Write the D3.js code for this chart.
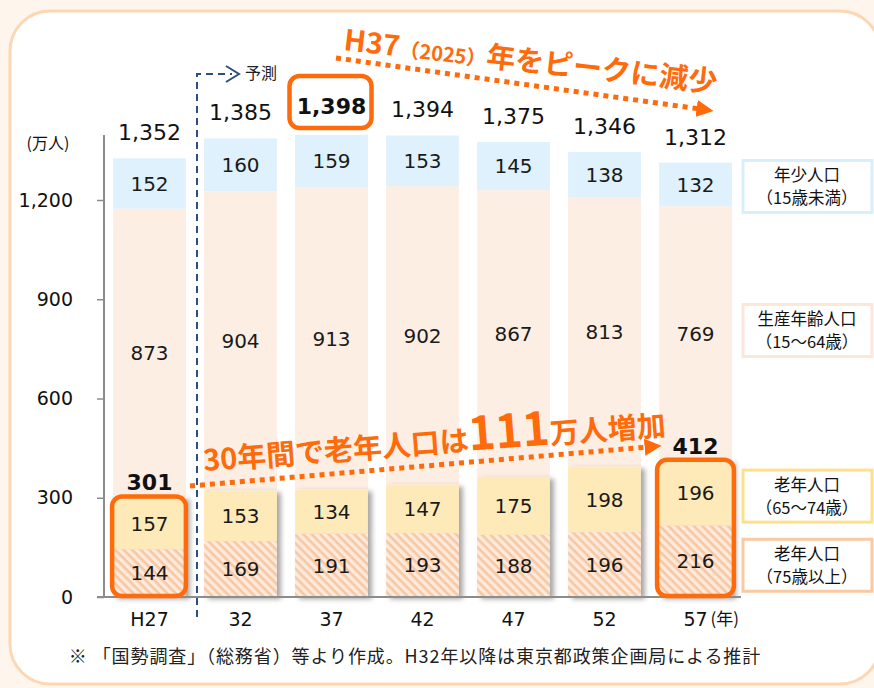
<meta charset="utf-8">
<script src="https://d3js.org/d3.v7.min.js"></script>
<style>
  body { margin: 0; background: #fef5ec; }
  text { font-family: "Noto Sans CJK JP", "Noto Sans", sans-serif; }
  .num { font-family: "DejaVu Sans", sans-serif; }
</style>
<div id="chart"></div>
<script>

// data
var years = ["H27", "32", "37", "42", "47", "52", "57"];
var young = [152, 160, 159, 153, 145, 138, 132];
var working = [873, 904, 913, 902, 867, 813, 769];
var old6574 = [157, 153, 134, 147, 175, 198, 196];
var old75 = [144, 169, 191, 193, 188, 196, 216];
var totals = [1352, 1385, 1398, 1394, 1375, 1346, 1312];
var yTicks = [0, 300, 600, 900, 1200];
var legendNames = ["年少人口", "生産年齢人口", "老年人口", "老年人口"];
var legendSubs = ["（15歳未満）", "（15～64歳）", "（65～74歳）", "（75歳以上）"];

var W = 874, H = 688;
var orange = "#ff6a0a";

var svg = d3.select("#chart")
  .append("svg")
    .attr("width", W)
    .attr("height", H);

var defs = svg.append("defs");

// hatch for 75+
var pat = defs.append("pattern")
    .attr("id", "hatch")
    .attr("patternUnits", "userSpaceOnUse")
    .attr("width", 6).attr("height", 6)
    .attr("patternTransform", "rotate(45)");
pat.append("rect").attr("width", 6).attr("height", 6).attr("fill", "#fdeadc");
pat.append("rect").attr("width", 6).attr("height", 2.6).attr("fill", "#f7c7a2");

var shadow = defs.append("filter").attr("id", "shadow")
    .attr("x", "-20%").attr("y", "-20%").attr("width", "150%").attr("height", "150%");
shadow.append("feDropShadow")
    .attr("dx", 4).attr("dy", 2).attr("stdDeviation", 2.5)
    .attr("flood-color", "#000").attr("flood-opacity", 0.35);

defs.append("marker")
    .attr("id", "arrow")
    .attr("viewBox", "0 0 10 10")
    .attr("refX", 2).attr("refY", 5)
    .attr("markerWidth", 3.4).attr("markerHeight", 3.4)
    .attr("markerUnits", "strokeWidth")
    .attr("orient", "auto")
  .append("path")
    .attr("d", "M0,0 L10,5 L0,10 Z")
    .attr("fill", orange);

// panel
svg.append("rect")
    .attr("x", 10).attr("y", 11)
    .attr("width", 870).attr("height", 673)
    .attr("rx", 40)
    .attr("fill", "#fff")
    .attr("stroke", "#fdd6b4")
    .attr("stroke-width", 3);

// scales
var x = d3.scaleBand()
    .domain(years)
    .range([104, 741])
    .paddingInner(0.2)
    .paddingOuter(0.1);

var y = d3.scaleLinear()
    .domain([0, 1200])
    .range([597, 200]);

var bw = x.bandwidth();

// stacked bars, bottom up
var data = years.map(function(d, i) {
  return {year: d, young: young[i], working: working[i], o65: old6574[i], o75: old75[i], total: totals[i]};
});

var fills = ["url(#hatch)", "#feeab8", "#fdeee3", "#dff1fc"];

var stack = d3.stack().keys(["o75", "o65", "working", "young"])(data);

// working and young (plain)
[2, 3].forEach(function(k) {
  svg.append("g").selectAll("rect")
    .data(stack[k])
    .enter()
    .append("rect")
      .attr("x", function(d) { return x(d.data.year); })
      .attr("y", function(d) { return y(d[1]); })
      .attr("width", bw)
      .attr("height", function(d) { return y(d[0]) - y(d[1]); })
      .attr("fill", fills[k]);
});

// elderly with shadow
var oldG = svg.append("g").attr("filter", "url(#shadow)");
[0, 1].forEach(function(k) {
  oldG.append("g").selectAll("rect")
    .data(stack[k])
    .enter()
    .append("rect")
      .attr("x", function(d) { return x(d.data.year); })
      .attr("y", function(d) { return y(d[1]); })
      .attr("width", bw)
      .attr("height", function(d) { return y(d[0]) - y(d[1]); })
      .attr("fill", fills[k]);
});

// segment labels
stack.forEach(function(layer) {
  svg.append("g").selectAll("text")
    .data(layer)
    .enter()
    .append("text")
      .attr("class", "num")
      .attr("x", function(d) { return x(d.data.year) + bw / 2; })
      .attr("y", function(d) { return (y(d[0]) + y(d[1])) / 2; })
      .attr("dy", "0.36em")
      .attr("text-anchor", "middle")
      .style("font-size", "20px")
      .style("fill", "#1a1a1a")
      .text(function(d) { return d[1] - d[0]; });
});

// totals
var topLayer = stack[3];
svg.append("g").selectAll("text")
  .data(topLayer)
  .enter()
  .append("text")
    .attr("class", "num")
    .attr("x", function(d) { return x(d.data.year) + bw / 2; })
    .attr("y", function(d, i) { return y(d[1]) - (i == 2 ? 29 : 26); })
    .attr("dy", "0.36em")
    .attr("text-anchor", "middle")
    .style("font-size", "22px")
    .style("font-weight", function(d, i) { return i == 2 ? "bold" : "normal"; })
    .style("fill", "#111")
    .text(function(d) { return d3.format(",")(d.data.total); });

// axes
var yAxis = svg.append("g")
    .attr("transform", "translate(104,0)")
    .call(d3.axisLeft(y).tickValues(yTicks).tickSize(7).tickPadding(24).tickFormat(d3.format(",")));
yAxis.select(".domain").remove();
yAxis.selectAll("line").attr("stroke", "#8c8c8c").attr("stroke-width", 1.5);
yAxis.selectAll("text").style("font-size", "19px").style("fill", "#111")
    .style("font-family", '"DejaVu Sans", sans-serif');

svg.append("line")
    .attr("x1", 104).attr("x2", 104)
    .attr("y1", 135).attr("y2", 597)
    .attr("stroke", "#8c8c8c").attr("stroke-width", 2);
svg.append("line")
    .attr("x1", 97).attr("x2", 741)
    .attr("y1", 597).attr("y2", 597)
    .attr("stroke", "#8c8c8c").attr("stroke-width", 2);

svg.append("text")
    .attr("x", 48).attr("y", 143)
    .attr("dy", "0.35em")
    .attr("text-anchor", "middle")
    .style("font-size", "16px")
    .style("fill", "#111")
    .text("(万人)");

svg.append("g").selectAll("text")
  .data(years)
  .enter()
  .append("text")
    .attr("class", "num")
    .attr("x", function(d) { return x(d) + bw / 2; })
    .attr("y", 619)
    .attr("dy", "0.36em")
    .attr("text-anchor", "middle")
    .style("font-size", "19px")
    .style("fill", "#111")
    .text(function(d) { return d; });

svg.append("text")
    .attr("x", x("57") + bw / 2 + 15).attr("y", 619)
    .attr("dy", "0.35em")
    .style("font-size", "17px")
    .style("fill", "#111")
    .text("(年)");

// forecast divider
var divX = (x("H27") + bw + x("32")) / 2 + 2;
svg.append("path")
    .attr("d", "M" + divX + ",617 V74 H232")
    .attr("fill", "none")
    .attr("stroke", "#2d4f7f")
    .attr("stroke-width", 2)
    .attr("stroke-dasharray", "7,5");
svg.append("path")
    .attr("d", "M" + (divX + 29) + ",66 L" + (divX + 42) + ",74 L" + (divX + 29) + ",82")
    .attr("fill", "none")
    .attr("stroke", "#2d4f7f")
    .attr("stroke-width", 2);
svg.append("text")
    .attr("x", divX + 48).attr("y", 73)
    .attr("dy", "0.35em")
    .style("font-size", "16px")
    .style("fill", "#222")
    .text("予測");

// highlight boxes
function hiBox(x0, y0, x1, y1) {
  svg.append("rect")
      .attr("x", x0).attr("y", y0)
      .attr("width", x1 - x0).attr("height", y1 - y0)
      .attr("rx", 10)
      .attr("fill", "none")
      .attr("stroke", orange)
      .attr("stroke-width", 4.5);
}
var cx37 = x("37") + bw / 2;
hiBox(cx37 - 42, 76, cx37 + 40, 128);
hiBox(x("H27") - 1, y(old6574[0] + old75[0]) - 1, x("H27") + bw + 0, 596);
hiBox(x("57") - 2, y(old6574[6] + old75[6]) - 1, x("57") + bw + 2, 596);

// elderly totals
[0, 6].forEach(function(i) {
  svg.append("text")
      .attr("class", "num")
      .attr("x", x(years[i]) + bw / 2)
      .attr("y", y(old6574[i] + old75[i]) - 15)
      .attr("dy", "0.36em")
      .attr("text-anchor", "middle")
      .style("font-size", "22px")
      .style("font-weight", "bold")
      .style("fill", "#111")
      .text(old6574[i] + old75[i]);
});

// legend boxes
var legStroke = ["#d9eefb", "#fde7d8", "#fde08c", "#f9c9a2"];
var lastBar = [3, 2, 1, 0].map(function(k) { return stack[k][6]; });
var legOff = [2, -3, 3, 4];
lastBar.forEach(function(d, i) {
  var cy = (y(d[0]) + y(d[1])) / 2 + legOff[i];
  var g = svg.append("g");
  g.append("rect")
      .attr("x", 743).attr("y", cy - 26)
      .attr("width", 129).attr("height", 52)
      .attr("fill", "#fff")
      .attr("stroke", legStroke[i])
      .attr("stroke-width", 3);
  g.append("text")
      .attr("x", 807).attr("y", cy - 11)
      .attr("dy", "0.35em")
      .attr("text-anchor", "middle")
      .style("font-size", "16.5px")
      .style("fill", "#111")
      .text(legendNames[i]);
  g.append("text")
      .attr("x", 807).attr("y", cy + 12)
      .attr("dy", "0.35em")
      .attr("text-anchor", "middle")
      .style("font-size", "16.5px")
      .style("fill", "#111")
      .text(legendSubs[i]);
});

// annotation: peak
svg.append("line")
    .attr("x1", 336).attr("y1", 58)
    .attr("x2", 700).attr("y2", 109)
    .attr("stroke", orange)
    .attr("stroke-width", 5)
    .attr("stroke-dasharray", "5,5")
    .attr("marker-end", "url(#arrow)");

var t1 = svg.append("text")
    .attr("transform", "translate(343,50) rotate(6.5)")
    .style("fill", orange)
    .style("font-weight", "bold");
t1.append("tspan").style("font-size", "29px").text("H37");
t1.append("tspan").style("font-size", "20px").text("（2025）");
t1.append("tspan").style("font-size", "29px").text("年をピークに減少");

// annotation: elderly increase
svg.append("line")
    .attr("x1", 190).attr("y1", 486)
    .attr("x2", 648).attr("y2", 447)
    .attr("stroke", orange)
    .attr("stroke-width", 5)
    .attr("stroke-dasharray", "5,5")
    .attr("marker-end", "url(#arrow)");

var t2 = svg.append("text")
    .attr("transform", "translate(204,471) rotate(-4.4)")
    .style("fill", orange)
    .style("font-weight", "bold");
t2.append("tspan").style("font-size", "29px").text("30年間で老年人口は");
t2.append("tspan").style("font-size", "46px").text("111");
t2.append("tspan").style("font-size", "29px").text("万人増加");

// footnote
svg.append("text")
    .attr("x", 415).attr("y", 657)
    .attr("dy", "0.35em")
    .attr("text-anchor", "middle")
    .style("font-size", "18px")
    .style("letter-spacing", "0.9px")
    .style("fill", "#222")
    .text("※ 「国勢調査」（総務省）等より作成。H32年以降は東京都政策企画局による推計");

</script>
